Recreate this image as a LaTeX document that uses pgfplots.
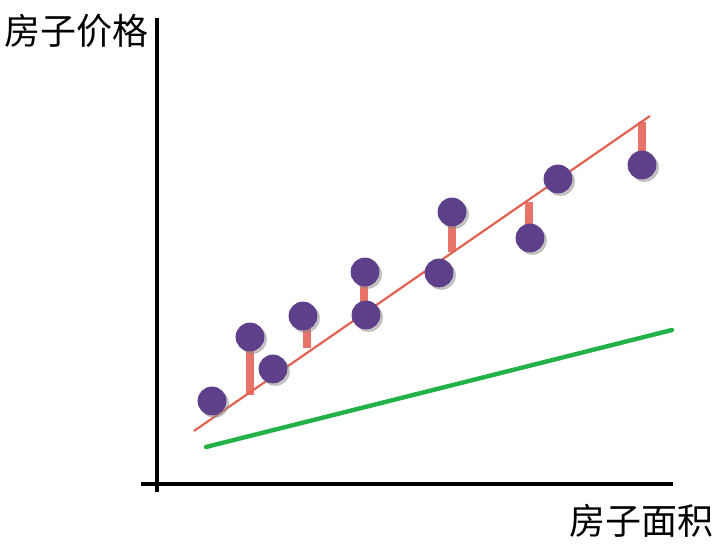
\documentclass[border=0pt]{standalone}
\usepackage{pgfplots}
\pgfplotsset{compat=1.18}
\usepackage{fontspec}
\newfontfamily\cjk{Noto Sans CJK SC}
\definecolor{pts}{RGB}{94,63,138}
\definecolor{fitred}{RGB}{224,98,82}
\definecolor{resid}{RGB}{230,100,88}
\definecolor{grn}{RGB}{34,178,72}
\begin{document}
\begin{tikzpicture}
\begin{axis}[
  scale only axis, width=362pt, height=272pt,
  xmin=0, xmax=724, ymin=0, ymax=544,
  hide axis, clip=false,
]
% invisible frame to fix bounding box
\addplot[draw=none, forget plot] coordinates {(0,0) (724,544)};
% axes
\addplot[black, line width=1.6pt] coordinates {(157,526) (157,52)};
\addplot[black, line width=1.6pt] coordinates {(141,60) (673,60)};
% green line
\addplot[grn, line width=2.2pt, line cap=round] coordinates {(206,97) (672,214)};
% shadows
\addplot[black!45, opacity=0.5, only marks, mark=*, mark size=7pt, mark options={xshift=1.2pt, yshift=-1.2pt}]
 coordinates {(212,143) (250,207) (273,175) (303,228) (365,272) (366,229) (439,271) (452,332) (530,306) (558,365) (642,379)};
% points
\addplot[pts, only marks, mark=*, mark size=7pt]
 coordinates {(212,143) (250,207) (273,175) (303,228) (365,272) (366,229) (439,271) (452,332) (530,306) (558,365) (642,379)};
% residuals
\addplot[resid, line width=3.6pt, opacity=0.9] coordinates {(250,201) (250,149)};
\addplot[resid, line width=3.6pt, opacity=0.9] coordinates {(307,221) (307,196)};
\addplot[resid, line width=3.6pt, opacity=0.9] coordinates {(364,267) (364,231)};
\addplot[resid, line width=3.6pt, opacity=0.9] coordinates {(452,319) (452,292)};
\addplot[resid, line width=3.6pt, opacity=0.9] coordinates {(529,342) (529,304)};
\addplot[resid, line width=3.6pt, opacity=0.9] coordinates {(642,422) (642,384)};
% fitted line
\addplot[fitred, line width=1.1pt] coordinates {(194,113) (650,428)};
% labels
\node[font=\cjk\fontsize{18}{20}\selectfont, inner sep=0pt] at (axis cs:76,513) {房子价格};
\node[font=\cjk\fontsize{18}{20}\selectfont, inner sep=0pt] at (axis cs:641,23) {房子面积};
\end{axis}
\end{tikzpicture}
\end{document}
